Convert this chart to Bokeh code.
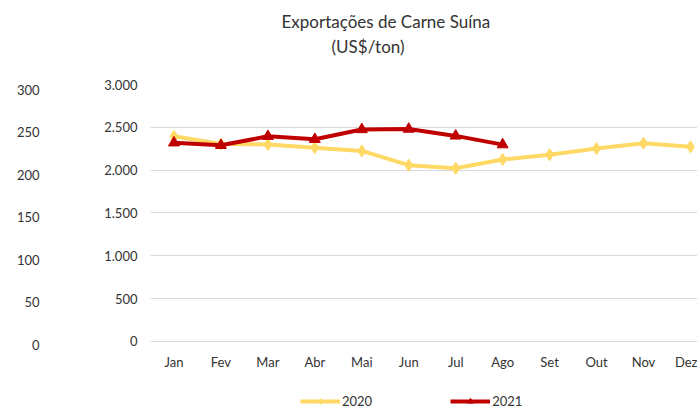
from bokeh.plotting import figure
from bokeh.models import (Range1d, FixedTicker, Title, Legend, LegendItem, ColumnDataSource, LinearAxis)
from bokeh.embed import file_html
from bokeh.resources import INLINE

# ---- data ----
months = ["Jan", "Fev", "Mar", "Abr", "Mai", "Jun", "Jul", "Ago", "Set", "Out", "Nov", "Dez"]
v2020 = [2395, 2305, 2300, 2262, 2225, 2058, 2022, 2125, 2180, 2252, 2315, 2272]
v2021 = [2320, 2290, 2395, 2360, 2475, 2480, 2400, 2298]
y_ticks = [0, 500, 1000, 1500, 2000, 2500, 3000]
y_tick_labels = ["0", "500", "1.000", "1.500", "2.000", "2.500", "3.000"]
aux_ticks = [0, 50, 100, 150, 200, 250, 300]
aux_tick_labels = ["0", "50", "100", "150", "200", "250", "300"]
title_lines = ["Exportações de Carne Suína", "(US$/ton)"]
series_names = ["2020", "2021"]

FONT = "Lato"
TXT = "#333333"
GRID = "#D9D9D9"
YEL = "#FFD966"
RED = "#C00000"

x_idx = list(range(len(months)))
src20 = ColumnDataSource(dict(x=x_idx[:len(v2020)], y=v2020))
src21 = ColumnDataSource(dict(x=x_idx[:len(v2021)], y=v2021))

# frame runs to the bottom edge so the legend can sit under the month labels
p = figure(width=697, height=409, output_backend="svg", toolbar_location=None,
           x_range=Range1d(-0.5, 11.15), y_range=Range1d(-794, 3000),
           x_axis_location="above",
           min_border_left=150, min_border_right=0, min_border_top=84, min_border_bottom=0)
p.outline_line_color = None
p.xgrid.grid_line_color = None
p.ygrid.grid_line_color = GRID
p.ygrid.grid_line_width = 1

main_y = p.yaxis[0]
main_x = p.xaxis[0]

# neighbouring chart's axis fragment (0-300)
p.extra_y_ranges = {"aux": Range1d(-76.5, 306)}
aux = LinearAxis(y_range_name="aux", ticker=FixedTicker(ticks=aux_ticks),
                 major_label_overrides={t: l for t, l in zip(aux_ticks, aux_tick_labels)})
p.add_layout(aux, "left")

main_y.ticker = FixedTicker(ticks=y_ticks)
main_y.major_label_overrides = {t: l for t, l in zip(y_ticks, y_tick_labels)}
main_x.ticker = FixedTicker(ticks=x_idx)
main_x.major_label_overrides = {i: m for i, m in zip(x_idx, months)}
main_x.fixed_location = 0
for ax in (main_x, main_y, aux):
    ax.axis_line_color = None
    ax.major_tick_line_color = None
    ax.minor_tick_line_color = None
    ax.major_label_text_font = FONT
    ax.major_label_text_font_size = "13px"
    ax.major_label_text_color = TXT
main_y.major_label_standoff = 7
aux.major_label_standoff = 56
main_x.major_label_standoff = -35

l20 = p.line("x", "y", source=src20, line_color=YEL, line_width=4)
m20 = p.scatter("x", "y", source=src20, marker="diamond", size=12, fill_color=YEL, line_color=YEL)
l21 = p.line("x", "y", source=src21, line_color=RED, line_width=4)
m21 = p.scatter("x", "y", source=src21, marker="triangle", size=11, fill_color=RED, line_color=RED)

# blank spacer keeps the two title lines clear of the plot area
p.add_layout(Title(text=" ", text_font=FONT, text_font_size="17px", standoff=4), "above")
offsets = [131, 181]
standoffs = [2, 2]
for line, off, so in reversed(list(zip(title_lines, offsets, standoffs))):
    t = Title(text=line, align="left", offset=off, text_font=FONT, text_font_size="17px",
              text_font_style="normal", text_color=TXT, standoff=so)
    p.add_layout(t, "above")

legend = Legend(items=[LegendItem(label=series_names[0], renderers=[l20, m20]),
                       LegendItem(label=series_names[1], renderers=[l21, m21])],
                orientation="horizontal", location=(150, 0),
                glyph_width=40, glyph_height=14, label_standoff=2, spacing=78,
                padding=0, margin=0,
                label_text_font=FONT, label_text_font_size="13px", label_text_color=TXT,
                border_line_color=None, background_fill_alpha=0)
p.add_layout(legend)

html = file_html(p, INLINE)
open("out.html", "w").write(html)
